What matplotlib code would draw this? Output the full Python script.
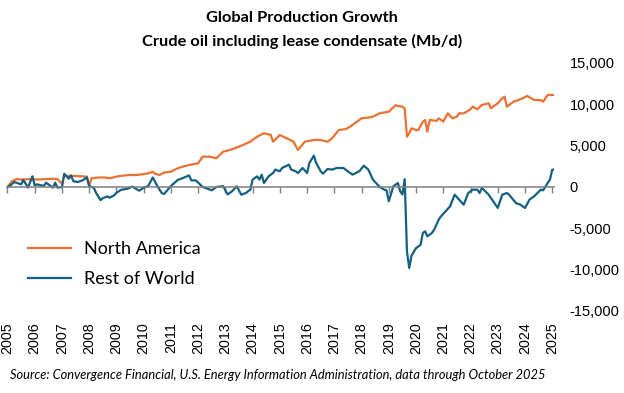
import matplotlib
matplotlib.use("Agg")
import matplotlib.pyplot as plt

# North America: cumulative crude growth (Mb/d)
na_months = ["2005-09", "2005-11", "2006-01", "2006-03", "2006-07", "2006-10", "2007-02", "2007-05",
             "2007-07", "2007-09", "2007-10", "2008-01", "2008-05", "2008-08", "2008-09", "2008-10",
             "2009-01", "2009-04", "2009-06", "2009-09", "2009-11", "2010-03", "2010-06", "2010-09",
             "2010-11", "2011-01", "2011-02", "2011-04", "2011-06", "2011-09", "2011-12", "2012-02",
             "2012-05", "2012-09", "2012-11", "2013-02", "2013-05", "2013-08", "2013-11", "2014-03",
             "2014-08", "2014-11", "2015-02", "2015-05", "2015-06", "2015-09", "2015-12", "2016-03",
             "2016-05", "2016-08", "2016-12", "2017-03", "2017-06", "2017-08", "2017-11", "2018-02",
             "2018-04", "2018-06", "2018-09", "2018-12", "2019-02", "2019-05", "2019-09", "2019-12",
             "2020-01", "2020-03", "2020-04", "2020-05", "2020-06", "2020-07", "2020-09", "2020-10",
             "2020-11", "2020-12", "2021-01", "2021-02", "2021-03", "2021-06", "2021-07", "2021-09",
             "2021-11", "2022-01", "2022-03", "2022-04", "2022-06", "2022-09", "2022-10", "2022-12",
             "2023-02", "2023-05", "2023-06", "2023-09", "2023-11", "2023-12", "2024-01", "2024-04",
             "2024-06", "2024-08", "2024-10", "2025-01", "2025-04", "2025-05", "2025-07", "2025-10"]
na_values = [0, 700, 950, 900, 950, 900, 950, 1000,
             950, 400, 1300, 1350, 1300, 1250, 150, 1050,
             1150, 1150, 1050, 1250, 1350, 1450, 1450, 1570,
             1650, 1850, 1600, 1450, 1750, 1850, 2260, 2450,
             2660, 2870, 3670, 3670, 3470, 4270, 4480, 4880,
             5480, 6090, 6500, 6300, 5480, 6290, 5890, 5480,
             4480, 5480, 5690, 5690, 5480, 5890, 6900, 7000,
             7300, 7700, 8310, 8400, 8510, 8920, 9110, 9900,
             9800, 9720, 9500, 6090, 6500, 7100, 6900, 6900,
             7400, 7900, 8100, 6700, 8110, 8000, 8310, 7900,
             8920, 8310, 8510, 8920, 8900, 9400, 9720, 9400,
             9920, 10130, 9520, 10130, 10730, 10930, 9720, 10330,
             10500, 10730, 11010, 10530, 10500, 10330, 11130, 11130]

# Rest of World
row_months = ["2005-09", "2005-10", "2005-12", "2006-03", "2006-04", "2006-06", "2006-08", "2006-09",
              "2006-10", "2007-01", "2007-02", "2007-05", "2007-06", "2007-07", "2007-09", "2007-10",
              "2007-12", "2008-01", "2008-02", "2008-04", "2008-06", "2008-08", "2008-09", "2008-11",
              "2008-12", "2009-02", "2009-03", "2009-05", "2009-06", "2009-08", "2009-09", "2009-11",
              "2010-02", "2010-04", "2010-07", "2010-09", "2010-11", "2011-01", "2011-03", "2011-05",
              "2011-06", "2011-09", "2011-12", "2012-02", "2012-05", "2012-06", "2012-08", "2012-11",
              "2013-01", "2013-03", "2013-05", "2013-08", "2013-10", "2013-12", "2014-02", "2014-04",
              "2014-06", "2014-08", "2014-09", "2014-11", "2014-12", "2015-01", "2015-02", "2015-04",
              "2015-06", "2015-07", "2015-09", "2015-10", "2016-01", "2016-02", "2016-04", "2016-05",
              "2016-07", "2016-09", "2016-10", "2016-12", "2017-01", "2017-03", "2017-04", "2017-06",
              "2017-08", "2017-10", "2018-01", "2018-04", "2018-05", "2018-08", "2018-10", "2018-12",
              "2019-02", "2019-05", "2019-07", "2019-08", "2019-09", "2019-11", "2020-01", "2020-02",
              "2020-03", "2020-04", "2020-05", "2020-06", "2020-07", "2020-09", "2020-11", "2020-12",
              "2021-01", "2021-02", "2021-04", "2021-05", "2021-07", "2021-08", "2021-10", "2021-12",
              "2022-02", "2022-04", "2022-06", "2022-08", "2022-10", "2022-12", "2023-01", "2023-02",
              "2023-05", "2023-06", "2023-09", "2023-11", "2024-01", "2024-02", "2024-05", "2024-07",
              "2024-09", "2024-11", "2025-01", "2025-04", "2025-05", "2025-07", "2025-08", "2025-09",
              "2025-10"]
row_values = [0, 120, 600, 320, 850, -80, 1300, 200,
              320, 120, 520, -80, 520, -80, 0, 1600,
              1000, 1400, 700, 600, 800, 1150, 100, -80,
              -700, -1600, -1350, -1150, -1300, -1000, -700, -350,
              -200, 50, -450, -100, 120, 1150, 120, -750,
              -850, 120, 850, 1050, 1400, 800, 800, 0,
              -200, -400, 0, 100, -900, -500, 80, -930,
              -730, -320, 890, 1290, 890, 1490, 480, 1290,
              1690, 2100, 1900, 2300, 2700, 2100, 1900, 1690,
              2300, 1690, 2900, 3790, 2900, 1900, 1610, 2180,
              2100, 2300, 2300, 1690, 1490, 1900, 2580, 2100,
              890, 0, -320, -400, -1730, 80, 480, -520,
              -900, 950, -7800, -9800, -8300, -7400, -7000, -5560,
              -5360, -5970, -5560, -5160, -3950, -3550, -2940, -2340,
              -930, -1530, -2140, -730, -320, -320, -730, -120,
              -930, -1330, -2540, -930, -730, -930, -1940, -2140,
              -2540, -1530, -1130, -320, -400, 480, 890, 2100,
              2100]

year_labels = [str(y) for y in range(2005, 2026)]
y_ticks = [-15000, -10000, -5000, 0, 5000, 10000, 15000]

first = (2005, 9)


def month_index(s):
    y, m = s.split("-")
    return (int(y) - first[0]) * 12 + int(m) - first[1]


na_x = [month_index(s) for s in na_months]
row_x = [month_index(s) for s in row_months]

orange = "#E97132"
blue = "#156082"

fig = plt.figure(figsize=(6.24, 3.93), dpi=100)
ax = fig.add_axes([0.012, 0.2087, 0.8766, 0.631])

ax.plot(na_x, na_values, color=orange, lw=1.6, label="North America")
ax.plot(row_x, row_values, color=blue, lw=1.6, label="Rest of World")

ax.set_xlim(0, 241)
ax.set_ylim(-15000, 15000)

# y axis on the right, no spine, no ticks
ax.yaxis.tick_right()
ax.set_yticks(y_ticks)
ax.set_yticklabels([f"{v:,}" for v in y_ticks], fontsize=10.5, family="Liberation Sans")
ax.tick_params(axis="y", length=0, pad=11)
for s in ["top", "left", "right"]:
    ax.spines[s].set_visible(False)

# x axis line through zero with small tick marks
ax.spines["bottom"].set_position(("data", 0))
ax.spines["bottom"].set_color("#7f7f7f")
ax.spines["bottom"].set_linewidth(1.1)
ax.set_xticks(range(0, 241, 12))
ax.tick_params(axis="x", direction="out", length=4, width=1, color="#7f7f7f", labelbottom=False)

# year labels at the bottom of the plot area
sec = ax.secondary_xaxis("bottom")
sec.set_xticks(range(0, 241, 12))
sec.set_xticklabels(year_labels, rotation=90, fontsize=10.3, family="Liberation Sans")
sec.tick_params(length=0, pad=8)
sec.spines["bottom"].set_visible(False)

leg = ax.legend(loc="center left", bbox_to_anchor=(0.037, 0.19), frameon=False,
                prop={"family": "Lato", "size": 13}, handlelength=2.4, handletextpad=0.7,
                labelspacing=0.78, borderpad=0, borderaxespad=0)

fig.text(0.484, 0.953, "Global Production Growth", ha="center", va="center",
         fontsize=11.8, fontweight="bold", family="Lato")
fig.text(0.484, 0.894, "Crude oil including lease condensate (Mb/d)", ha="center", va="center",
         fontsize=11.8, fontweight="bold", family="Lato")
fig.text(0.016, 0.047, "Source: Convergence Financial, U.S. Energy Information Administration, data through October 2025",
         ha="left", va="center", fontsize=9.3, style="italic", family="Lato")

fig.savefig("out.png", dpi=100)
